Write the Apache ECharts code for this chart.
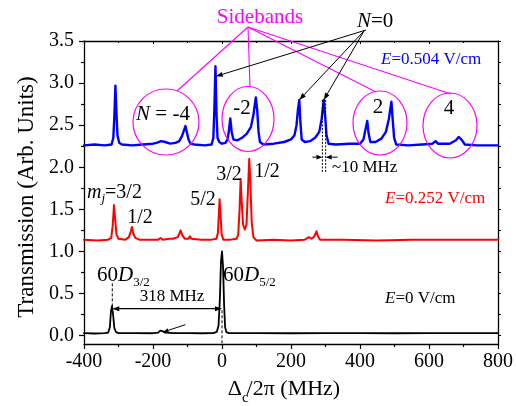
<!DOCTYPE html>
<html><head><meta charset="utf-8">
<script src="https://cdn.jsdelivr.net/npm/echarts@6/dist/echarts.min.js"></script>
<style>html,body{margin:0;padding:0;background:#fff}#c{width:516px;height:406px}</style>
</head><body><div id="c"></div>
<script>
// ---- data ----
const xTickValues = [-400, -200, 0, 200, 400, 600, 800];
const yTickLabels = [0, 0.5, 1.0, 1.5, 2.0, 2.5, 3.0, 3.5];
const yMinorTicks = [0.25, 0.75, 1.25, 1.75, 2.25, 2.75, 3.25];

// E = 0 V/cm (black)
const blackTrace = [
  [-400,0.03],[-370,0.025],[-340,0.03],[-330,0.035],[-325,0.1],[-322,0.28],[-319,0.35],[-316,0.26],[-312,0.09],[-307,0.04],[-300,0.03],
  [-250,0.03],[-200,0.028],[-185,0.035],[-179,0.06],[-175,0.08],[-171,0.05],[-165,0.035],[-140,0.03],[-100,0.03],[-60,0.028],
  [-25,0.03],[-15,0.045],[-10,0.12],[-6,0.45],[-3,0.88],[0,1.0],[3,0.82],[6,0.38],[9,0.1],[13,0.04],[20,0.03],
  [100,0.03],[200,0.028],[300,0.03],[400,0.03],[500,0.028],[600,0.03],[700,0.03],[800,0.03]
];
// E = 0.252 V/cm (red)
const redTrace = [
  [-400,1.14],[-360,1.13],[-330,1.14],[-321,1.16],[-317,1.3],[-313,1.55],[-310,1.4],[-306,1.2],[-300,1.15],[-280,1.14],
  [-270,1.17],[-265,1.23],[-261,1.29],[-257,1.21],[-251,1.16],[-240,1.14],[-200,1.14],[-185,1.14],[-178,1.16],[-172,1.14],
  [-152,1.15],[-147,1.17],[-142,1.15],[-128,1.17],[-123,1.22],[-120,1.25],[-116,1.2],[-108,1.15],[-97,1.15],[-93,1.18],[-89,1.15],
  [-60,1.14],[-30,1.14],[-16,1.15],[-12,1.22],[-9,1.45],[-7,1.62],[-4,1.42],[-1,1.2],[4,1.14],[25,1.14],[42,1.15],
  [47,1.2],[51,1.5],[54,1.86],[57,1.6],[61,1.32],[66,1.26],[71,1.32],[75,1.7],[79,2.1],[82,1.85],[86,1.35],[91,1.17],[100,1.13],
  [150,1.14],[200,1.13],[240,1.14],[252,1.17],[259,1.15],[266,1.17],[270,1.2],[274,1.24],[278,1.18],[284,1.14],
  [350,1.14],[450,1.13],[550,1.14],[650,1.14],[750,1.14],[800,1.14]
];
// E = 0.504 V/cm (blue)
const blueTrace = [
  [-400,2.26],[-370,2.27],[-340,2.26],[-320,2.27],[-315,2.35],[-312,2.6],[-309,2.97],[-306,2.65],[-303,2.38],[-298,2.29],[-290,2.27],
  [-260,2.26],[-230,2.27],[-200,2.28],[-190,2.29],[-176,2.31],[-165,2.3],[-150,2.28],[-135,2.29],[-124,2.31],[-116,2.37],[-110,2.44],
  [-106,2.49],[-102,2.42],[-97,2.33],[-91,2.28],[-80,2.27],[-50,2.26],[-30,2.27],[-25,2.35],[-22,2.7],[-19,3.2],[-16,2.65],
  [-13,2.35],[-8,2.3],[0,2.28],[10,2.29],[16,2.33],[20,2.43],[24,2.58],[28,2.42],[33,2.33],[45,2.32],[58,2.35],[72,2.4],
  [84,2.48],[91,2.62],[98,2.83],[102,2.68],[106,2.42],[110,2.3],[120,2.27],[150,2.28],[180,2.3],[200,2.33],[210,2.38],[216,2.5],
  [220,2.68],[224,2.8],[227,2.55],[231,2.33],[240,2.3],[255,2.31],[270,2.35],[282,2.42],[289,2.58],[295,2.8],[299,2.6],[303,2.38],
  [309,2.28],[330,2.27],[370,2.28],[400,2.28],[410,2.33],[416,2.45],[421,2.55],[425,2.4],[430,2.3],[445,2.3],[462,2.34],[475,2.42],
  [484,2.58],[491,2.78],[495,2.55],[499,2.35],[505,2.27],[540,2.26],[580,2.27],[610,2.28],[619,2.31],[626,2.28],[660,2.28],
  [678,2.32],[686,2.36],[690,2.37],[696,2.32],[704,2.27],[740,2.26],[800,2.26]
];

// annotation anchors (data coordinates)
const n0Targets = [[-18, 3.08], [224, 2.8], [295, 2.8]];
const splitting = [-318, 0];
const smallBump = [[-106, 0.13], [-172, 0.04]];

// ---- chart ----
const FONT = 'Liberation Serif';
const chart = echarts.init(document.getElementById('c'));
const axisLine = {show:true, onZero:false, lineStyle:{color:'#000', width:1.3}};
const option = {
  animation: false,
  grid: {left:84, right:16, top:41, bottom:62, containLabel:false},
  xAxis: [
    {type:'value', min:-400, max:800, interval:200, position:'bottom',
     axisLine: axisLine,
     axisTick:{show:true, inside:false, length:5, lineStyle:{color:'#000', width:1.2}},
     minorTick:{show:true, splitNumber:2, length:3, lineStyle:{color:'#000', width:1.2}},
     axisLabel:{fontFamily:FONT, fontSize:20, color:'#000', margin:8},
     splitLine:{show:false}},
    {type:'value', min:-400, max:800, interval:200, position:'top',
     axisLine: axisLine,
     axisTick:{show:true, inside:true, length:3, lineStyle:{color:'#000'}},
     minorTick:{show:true, splitNumber:2, length:2, lineStyle:{color:'#000'}},
     axisLabel:{show:false}, splitLine:{show:false}}
  ],
  yAxis: [
    {type:'value', min:-0.1, max:3.5, position:'left',
     axisLine: axisLine,
     axisTick:{show:true, inside:false, length:5, customValues:yTickLabels, lineStyle:{color:'#000', width:1.2}},
     axisLabel:{customValues:yTickLabels, formatter:v=>Number(v).toFixed(1), fontFamily:FONT, fontSize:20, color:'#000', margin:10},
     splitLine:{show:false}},
    {type:'value', min:-0.1, max:3.5, position:'left',
     axisLine:{show:false, onZero:false},
     axisTick:{show:true, inside:false, length:3, customValues:yMinorTicks, lineStyle:{color:'#000', width:1.2}},
     axisLabel:{show:false}, splitLine:{show:false}},
    {type:'value', min:-0.1, max:3.5, position:'right',
     axisLine: axisLine,
     axisTick:{show:true, inside:false, length:3, customValues:yTickLabels.concat(yMinorTicks), lineStyle:{color:'#000'}},
     axisLabel:{show:false}, splitLine:{show:false}}
  ],
  series: [
    {type:'line', data:blackTrace, symbol:'none', lineStyle:{color:'#000', width:1.8, join:'round', cap:'round'}, z:3},
    {type:'line', data:redTrace, symbol:'none', lineStyle:{color:'#ff0000', width:2, join:'round', cap:'round'}, z:3},
    {type:'line', data:blueTrace, symbol:'none', lineStyle:{color:'#0000ff', width:2.4, join:'round', cap:'round'}, z:3}
  ]
};
chart.setOption(option);

// ---- annotations ----
const P = d => chart.convertToPixel({xAxisIndex:0, yAxisIndex:0}, d);
const ctx = document.createElement('canvas').getContext('2d');
function tw(t, s, it){ ctx.font = (it?'italic ':'') + s + 'px "' + FONT + '"'; return ctx.measureText(t).width; }
function run(x, y, parts, color, align){
  const ws = parts.map(p => tw(p.t, p.s, p.it) + (p.adv||0));
  const total = ws.reduce((a,b)=>a+b, 0);
  let cx = align==='center' ? x - total/2 : (align==='right' ? x - total : x);
  const els = [];
  parts.forEach((p,i)=>{
    els.push({type:'text', x:cx, y:y+(p.dy||0), z:20,
      style:{text:p.t, fontFamily:FONT, fontSize:p.s, fontStyle:p.it?'italic':'normal', fill:color, align:'left', verticalAlign:'middle'}});
    cx += ws[i];
  });
  return els;
}
function line(a, b, color, lw, dash){
  return {type:'line', z:15, shape:{x1:a[0], y1:a[1], x2:b[0], y2:b[1]}, style:{stroke:color, lineWidth:lw||1, lineDash:dash||null}};
}
function arrow(a, b, color, head, hw, lw){
  head = head||7; hw = hw||2.5;
  const dx=b[0]-a[0], dy=b[1]-a[1], L=Math.hypot(dx,dy), ux=dx/L, uy=dy/L;
  const bx=b[0]-ux*head, by=b[1]-uy*head;
  return [line(a,[bx,by],color,lw||1),
    {type:'polygon', z:15, shape:{points:[[b[0],b[1]],[bx-uy*hw,by+ux*hw],[bx+uy*hw,by-ux*hw]]}, style:{fill:color}}];
}
function ell(cx, cy, rx, ry){
  return {type:'ellipse', z:14, shape:{cx, cy, rx, ry}, style:{fill:null, stroke:'#ff00ff', lineWidth:1.2}};
}
const M = '#ff00ff';
let g = [];
// sideband circles
g.push(ell(166,122,33,33), ell(248,119,26,32.5), ell(380,123,27,32), ell(450,125.5,27,32.5));
// sideband lines
const sb = [248, 27];
[[177,91],[250,87],[376,92],[451,94]].forEach(t => g.push(line(sb, t, M, 1.1)));
g = g.concat(run(260, 17, [{t:'Sidebands', s:21}], M, 'center'));
// N=0
g = g.concat(run(357, 21, [{t:'N', s:21, it:true},{t:'=0', s:21}], '#000', 'left'));
g = g.concat(arrow([366,30], P(n0Targets[0]), '#000', 7, 2.5, 1));
g = g.concat(arrow([364,31], P(n0Targets[1]), '#000', 7, 2.5, 1));
g = g.concat(arrow([364,31], P(n0Targets[2]), '#000', 7, 2.5, 1));
// labels in circles
g = g.concat(run(163, 114, [{t:'N', s:21, it:true},{t:' = -4', s:21}], '#000', 'center'));
g = g.concat(run(242, 108, [{t:'-2', s:21}], '#000', 'center'));
g = g.concat(run(378, 107, [{t:'2', s:21}], '#000', 'center'));
g = g.concat(run(449, 108, [{t:'4', s:21}], '#000', 'center'));
// field labels
g = g.concat(run(381, 60, [{t:'E', s:17, it:true},{t:'=0.504 V/cm', s:17}], '#0000ff', 'left'));
g = g.concat(run(385, 199, [{t:'E', s:17, it:true},{t:'=0.252 V/cm', s:17}], '#ff0000', 'left'));
g = g.concat(run(385, 299, [{t:'E', s:17, it:true},{t:'=0 V/cm', s:17}], '#000', 'left'));
// m_j labels
g = g.concat(run(87, 193, [{t:'m', s:20, it:true},{t:'j', s:13, it:true, dy:6},{t:'=3/2', s:20}], '#000', 'left'));
g = g.concat(run(140, 218, [{t:'1/2', s:20}], '#000', 'center'));
g = g.concat(run(203, 200, [{t:'5/2', s:20}], '#000', 'center'));
g = g.concat(run(229, 175, [{t:'3/2', s:20}], '#000', 'center'));
g = g.concat(run(267, 172, [{t:'1/2', s:20}], '#000', 'center'));
// 60D labels
g = g.concat(run(97, 275, [{t:'60', s:21},{t:'D', s:21, it:true},{t:'3/2', s:13, dy:8}], '#000', 'left'));
g = g.concat(run(223, 275, [{t:'60', s:21},{t:'D', s:21, it:true},{t:'5/2', s:13, dy:8}], '#000', 'left'));
// dashed verticals at the two fine-structure lines
g.push(line(P([splitting[0], 0.62]), P([splitting[0], 0.34]), '#000', 1, [3,2]));
g.push(line(P([splitting[1], 0.3]), P([splitting[1], -0.1]), '#000', 1, [3,2]));
// 318 MHz double arrow
const yA = 0.32;
g = g.concat(arrow(P([-160, yA]), P([splitting[0], yA]), '#000', 7, 2.5, 1.2));
g = g.concat(arrow(P([-160, yA]), P([splitting[1], yA]), '#000', 7, 2.5, 1.2));
g = g.concat(run(172, 297, [{t:'318 MHz', s:17}], '#000', 'center'));
// small arrow to bump
g = g.concat(arrow(P(smallBump[0]), P(smallBump[1]), '#000', 6, 2.2, 1));
// ~10 MHz
g.push(line(P([291, 2.8]), P([291, 1.94]), '#000', 1, [2,1.5]));
g.push(line(P([300.5, 2.8]), P([300.5, 1.94]), '#000', 1, [2,1.5]));
g = g.concat(arrow(P([262, 2.12]), P([291, 2.12]), '#000', 6, 2.3, 1));
g = g.concat(arrow(P([335, 2.12]), P([300.5, 2.12]), '#000', 6, 2.3, 1));
g = g.concat(run(332, 168, [{t:'~10 MHz', s:17}], '#000', 'left'));
// axis titles
g.push({type:'text', x:27, y:197, rotation:Math.PI/2, z:20,
  style:{text:'Transmission (Arb. Units)', fontFamily:FONT, fontSize:23, fill:'#000', align:'center', verticalAlign:'middle'}});
g = g.concat(run(284, 389, [{t:'Δ', s:22},{t:'c', s:15, dy:9, adv:-2},{t:'/2π (MHz)', s:22}], '#000', 'center'));

chart.setOption({graphic: g});
</script>
</body></html>
